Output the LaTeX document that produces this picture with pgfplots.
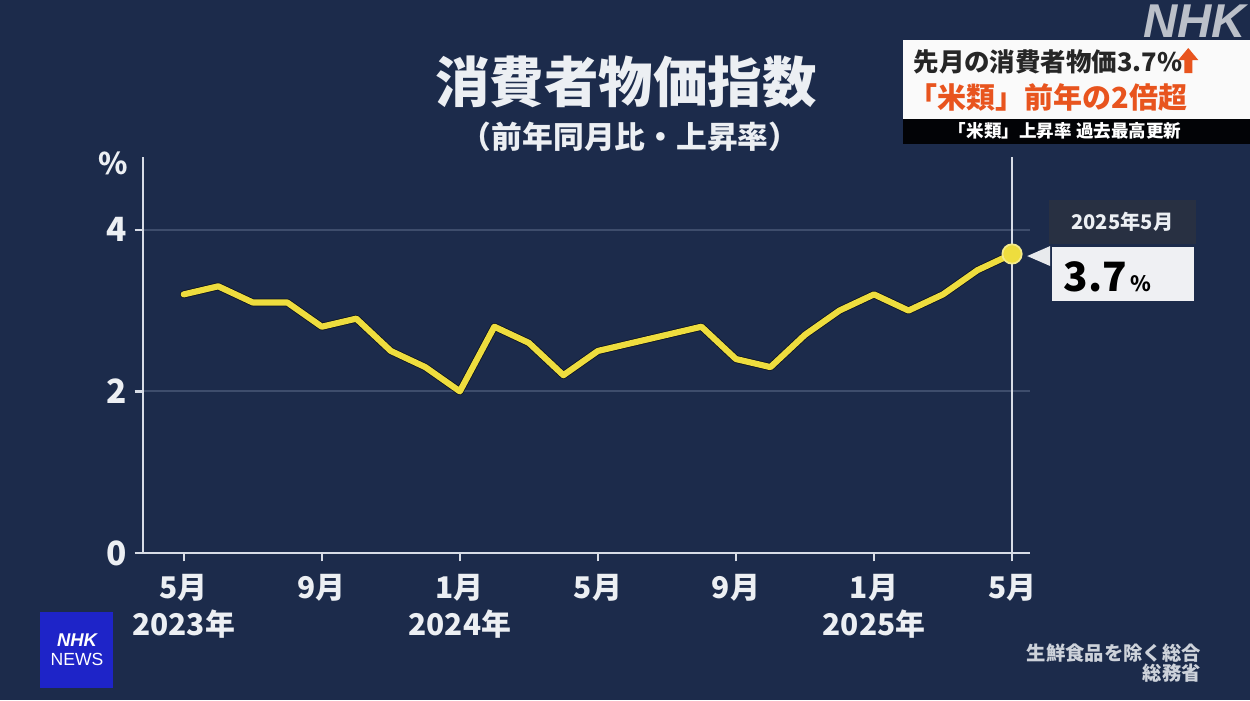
\documentclass[border=0pt]{standalone}
\usepackage{fontspec}
\usepackage{pgfplots}
\pgfplotsset{compat=1.18}
\newfontfamily\jp{Noto Sans CJK JP}
\newfontfamily\logo{Liberation Sans}
\definecolor{bg}{RGB}{28,43,75}
\definecolor{gridc}{RGB}{62,77,108}
\definecolor{axiscol}{RGB}{215,220,230}
\definecolor{yel}{RGB}{238,221,62}
\definecolor{txt}{RGB}{236,239,243}
\definecolor{orng}{RGB}{232,84,30}
\definecolor{calldark}{RGB}{40,48,66}
\definecolor{nhkblue}{RGB}{30,36,200}
\begin{document}
\begin{tikzpicture}
\fill[bg] (0,0) rectangle (25cm,14cm);
\useasboundingbox (0,0) rectangle (25cm,14cm);
\begin{axis}[
  at={(2.86cm,2.94cm)}, anchor=south west, scale only axis,
  width=17.74cm, height=7.92cm,
  xmin=-1.18, xmax=24.52, ymin=0, ymax=4.9,
  axis x line=bottom, axis y line=left,
  axis line style={-, draw=axiscol, line width=1.3pt},
  tick style={draw=axiscol, line width=1.3pt},
  tick align=outside, major tick length=0.17cm,
  ytick={0,2,4}, xtick={0,4,8,12,16,20,24},
  xticklabels={5月\\2023年, 9月, 1月\\2024年, 5月, 9月, 1月\\2025年, 5月},
  /pgf/number format/assume math mode=true,
  yticklabel style={font=\jp\bfseries\fontsize{19}{22}\selectfont, text=txt, xshift=-1pt},
  xticklabel style={font=\jp\bfseries\fontsize{17}{21}\selectfont, text=txt, align=center, anchor=north, yshift=-4pt},
  ymajorgrids, grid style={draw=gridc, line width=1pt},
  clip=false,
]
\draw[axiscol, line width=1.3pt] (axis cs:24,0) -- (axis cs:24,4.9);
\addplot[black!70!bg, line width=4.4pt, line join=round, line cap=round, opacity=0.8] coordinates {
(0,3.2)(1,3.3)(2,3.1)(3,3.1)(4,2.8)(5,2.9)(6,2.5)(7,2.3)(8,2.0)(9,2.8)(10,2.6)(11,2.2)(12,2.5)(13,2.6)(14,2.7)(15,2.8)(16,2.4)(17,2.3)(18,2.7)(19,3.0)(20,3.2)(21,3.0)(22,3.2)(23,3.5)(24,3.7)};
\addplot[yel, line width=3.5pt, line join=round, line cap=round] coordinates {
(0,3.2)(1,3.3)(2,3.1)(3,3.1)(4,2.8)(5,2.9)(6,2.5)(7,2.3)(8,2.0)(9,2.8)(10,2.6)(11,2.2)(12,2.5)(13,2.6)(14,2.7)(15,2.8)(16,2.4)(17,2.3)(18,2.7)(19,3.0)(20,3.2)(21,3.0)(22,3.2)(23,3.5)(24,3.7)};
\addplot[only marks, mark=*, mark size=5.5pt, mark options={fill=yel, draw=yel!60!white, line width=1pt}] coordinates {(24,3.7)};
\end{axis}
\begin{scope}[x=0.02cm, y=-0.02cm, shift={(0,14cm)}]
  % titles
  \node[text=txt, font=\jp\bfseries\fontsize{31}{34}\selectfont] at (626,82) {消費者物価指数};
  \node[text=txt, font=\jp\bfseries\fontsize{17.5}{20}\selectfont] at (630,137) {（前年同月比・上昇率）};
  % percent
  \node[text=txt, font=\jp\bfseries\fontsize{17}{20}\selectfont] at (113,163) {\%};
  % callout
  \fill[calldark] (1049,200) rectangle (1196,244);
  \node[text=txt, font=\jp\bfseries\fontsize{11.5}{14}\selectfont] at (1122,222) {2025年5月};
  \fill[white!93!bg] (1052,247) rectangle (1194,301);
  \fill[white!90!bg] (1027,256) -- (1050,246) -- (1050,266) -- cycle;
  \node[anchor=base west, text=black, font=\jp\bfseries\fontsize{23}{26}\selectfont, inner sep=0] at (1063,291) {3.7\fontsize{12}{14}\selectfont\,\%};
  % top right box
  \fill[white!96!gray] (903,40) rectangle (1250,119);
  \fill[black!92!bg] (903,119) rectangle (1250,144);
  \node[anchor=west, text=black!85, font=\jp\bfseries\fontsize{14.5}{17}\selectfont, inner sep=0] at (913,62) {先月の消費者物価3.7\%};
  \fill[orng] (1188,48) -- (1198,60) -- (1192,60) -- (1192,73) -- (1184,73) -- (1184,60) -- (1178,60) -- cycle;
  \node[anchor=west, text=orng, font=\jp\bfseries\fontsize{16.5}{19}\selectfont, inner sep=0] at (908,97) {「米類」前年の2倍超};
  \node[text=white, font=\jp\bfseries\fontsize{10}{12}\selectfont] at (1065,131) {「米類」上昇率\ 過去最高更新};
  % NHK watermark
  \node[anchor=east, text=white!70!bg, font=\logo\bfseries\itshape\fontsize{27}{30}\selectfont, inner sep=0] at (1246,21) {NHK};
  % NHK NEWS logo
  \fill[nhkblue] (40,612) rectangle (113,688);
  \node[text=white, font=\logo\bfseries\itshape\fontsize{10.5}{12}\selectfont] at (77,640) {NHK};
  \node[text=white, font=\logo\fontsize{10}{12}\selectfont] at (77,659) {NEWS};
  % source
  \node[anchor=east, text=txt!85!bg, font=\jp\bfseries\fontsize{11}{13}\selectfont, inner sep=0] at (1201,653) {生鮮食品を除く総合};
  \node[anchor=east, text=txt!85!bg, font=\jp\bfseries\fontsize{11}{13}\selectfont, inner sep=0] at (1201,673) {総務省};
\end{scope}
\end{tikzpicture}
\end{document}
